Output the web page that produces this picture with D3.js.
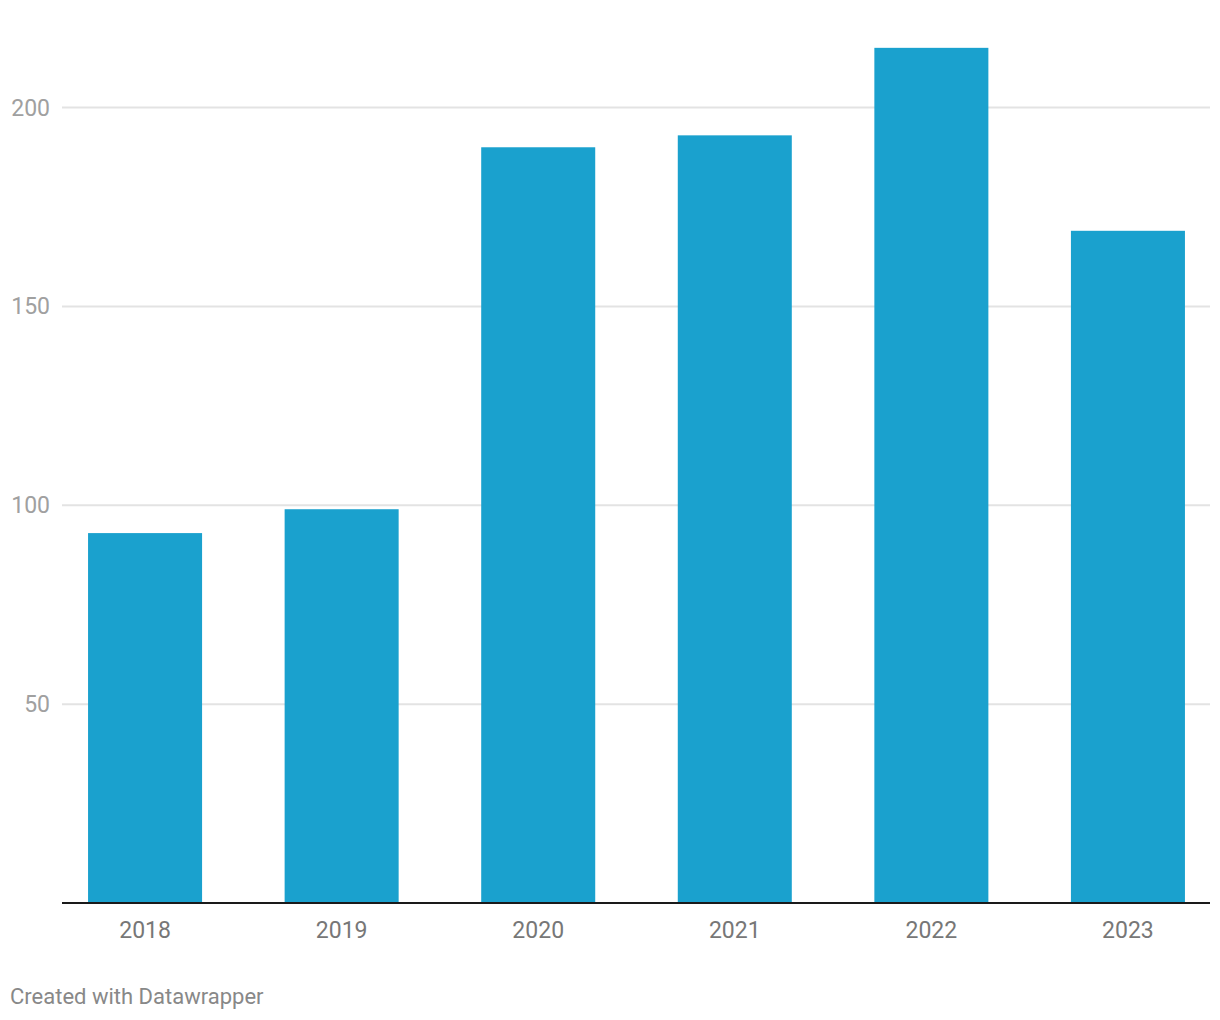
<!DOCTYPE html>
<html>
<head>
<meta charset="utf-8">
<script src="https://cdn.jsdelivr.net/npm/d3@7"></script>
<style>
  body { margin: 0; background: #fff; }
  svg text { font-family: Roboto, "Noto Sans", sans-serif; }
</style>
</head>
<body>
<div class="chart"></div>
<script>
var years = ["2018", "2019", "2020", "2021", "2022", "2023"];
var values = [93, 99, 190, 193, 215, 169];
var yTicks = [50, 100, 150, 200];

var width = 1220;
var height = 1020;
var barColor = "#1aa1ce";

var svg = d3.select(".chart")
	.append("svg")
	.attr("width", width)
	.attr("height", height);

var x = d3.scaleBand()
	.domain(years)
	.range([62.5, 1210.5])
	.paddingInner(0.42)
	.paddingOuter(0.13);

var y = d3.scaleLinear()
	.domain([0, 200])
	.range([903, 107.5]);

// gridlines
var grid = svg.append("g");
grid.selectAll("line")
	.data(yTicks)
	.enter()
	.append("line")
	.attr("x1", 62)
	.attr("x2", 1210)
	.attr("y1", function(d) { return y(d); })
	.attr("y2", function(d) { return y(d); })
	.attr("stroke", "#e3e3e3")
	.attr("stroke-width", 2);

grid.selectAll("text")
	.data(yTicks)
	.enter()
	.append("text")
	.attr("x", 50)
	.attr("y", function(d) { return y(d) + 8; })
	.attr("text-anchor", "end")
	.attr("font-size", 23)
	.attr("fill", "#a0a0a0")
	.text(function(d) { return d; });

// bars
svg.append("g").selectAll("rect")
	.data(values)
	.enter()
	.append("rect")
	.attr("x", function(d, i) { return x(years[i]); })
	.attr("width", x.bandwidth())
	.attr("y", function(d) { return y(d); })
	.attr("height", function(d) { return y(0) - y(d); })
	.attr("fill", barColor);

// x axis
var xAxis = svg.append("g")
	.attr("transform", "translate(0," + y(0) + ")")
	.call(d3.axisBottom(x).tickSize(0).tickPadding(0));
xAxis.select(".domain").remove();
xAxis.append("line")
	.attr("x1", 62)
	.attr("x2", 1210)
	.attr("stroke", "#1a1a1a")
	.attr("stroke-width", 2);
xAxis.selectAll(".tick text")
	.attr("dy", null)
	.attr("y", 35)
	.attr("font-size", 23)
	.attr("font-family", "Roboto, sans-serif")
	.attr("fill", "#777");

svg.append("text")
	.attr("x", 10)
	.attr("y", 1004)
	.attr("font-size", 22)
	.attr("fill", "#888")
	.text("Created with Datawrapper");
</script>
</body>
</html>
